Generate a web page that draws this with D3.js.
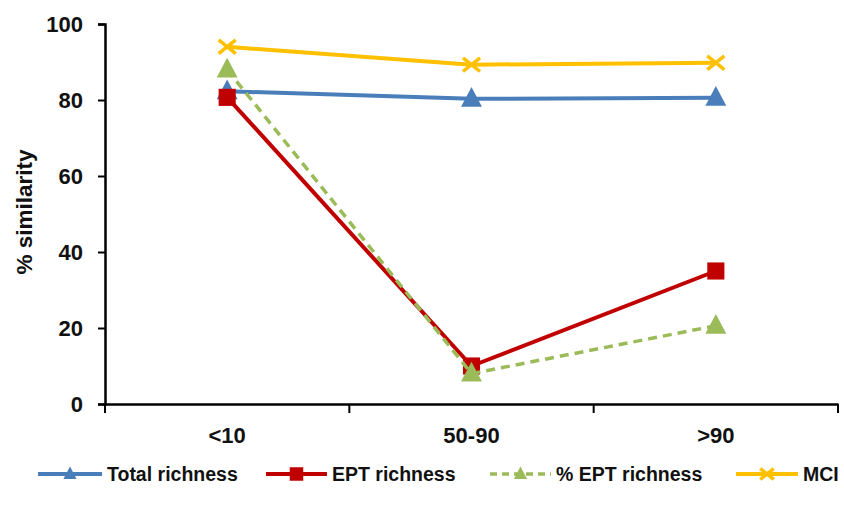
<!DOCTYPE html>
<html>
<head>
<meta charset="utf-8">
<script src="https://cdn.jsdelivr.net/npm/d3@7"></script>
<style>
  html, body { margin: 0; padding: 0; background: #fff; }
  svg text { font-family: "Liberation Sans", Arial, sans-serif; font-weight: bold; fill: #111; }
</style>
</head>
<body>
<svg id="chart" width="844" height="511"></svg>
<script>
// Categories along the x axis
const categories = ["<10", "50-90", ">90"];

// Series values (% similarity)
const totalRichness = [82.3, 80.3, 80.6];
const eptRichness = [80.7, 10, 35];
const pctEptRichness = [88, 8, 20.6];
const mci = [94, 89.3, 89.8];

const yTicks = [0, 20, 40, 60, 80, 100];

const series = [
  { name: "Total richness", values: totalRichness, color: "#4A7EBB", marker: "triangle", dashed: false },
  { name: "EPT richness", values: eptRichness, color: "#C00000", marker: "square", dashed: false },
  { name: "% EPT richness", values: pctEptRichness, color: "#9BBB59", marker: "triangle", dashed: true },
  { name: "MCI", values: mci, color: "#FFC000", marker: "cross", dashed: false }
];

const svg = d3.select("#chart");
const margin = { left: 105, right: 6, top: 24, bottom: 107 };
const W = 844, H = 511;

const x = d3.scaleBand().domain(categories).range([margin.left, W - margin.right]);
const y = d3.scaleLinear().domain([0, 100]).range([H - margin.bottom, margin.top]);

// Y axis
const yAxis = svg.append("g")
  .attr("transform", `translate(${margin.left},0)`)
  .call(d3.axisLeft(y).tickValues(yTicks).tickSize(7).tickPadding(15));
yAxis.select(".domain").attr("stroke", "#000").attr("stroke-width", 2.5);
yAxis.selectAll(".tick line").attr("stroke", "#000").attr("stroke-width", 2);
yAxis.selectAll("text").attr("font-size", 22).attr("dy", "0.36em")
  .style("font-family", '"Liberation Sans", Arial, sans-serif').style("font-weight", "bold").attr("fill", "#111");

// X axis with ticks at band boundaries
const xAxis = svg.append("g")
  .attr("transform", `translate(0,${y(0)})`)
  .call(d3.axisBottom(x).tickSize(0).tickPadding(23));
xAxis.select(".domain").attr("stroke", "#000").attr("stroke-width", 2.5);
xAxis.selectAll("text").attr("font-size", 22)
  .style("font-family", '"Liberation Sans", Arial, sans-serif').style("font-weight", "bold").attr("fill", "#111");
const boundaries = categories.map(c => x(c)).concat([x(categories[categories.length - 1]) + x.bandwidth()]);
xAxis.selectAll(".bound").data(boundaries).enter().append("line")
  .attr("x1", d => d).attr("x2", d => d).attr("y1", 0).attr("y2", 9)
  .attr("stroke", "#000").attr("stroke-width", 2);

// Y axis title
svg.append("text")
  .attr("transform", `translate(32,${(margin.top + y(0)) / 2 - 2}) rotate(-90)`)
  .attr("text-anchor", "middle")
  .attr("font-size", 22.5)
  .text("% similarity");

function drawMarker(g, type, cx, cy, color, size) {
  if (type === "triangle") {
    const s = size;
    g.append("path")
      .attr("d", `M${cx},${cy - s * 0.62} L${cx + s * 0.55},${cy + s * 0.42} L${cx - s * 0.55},${cy + s * 0.42} Z`)
      .attr("fill", color);
  } else if (type === "square") {
    const s = size * 0.9;
    g.append("rect").attr("x", cx - s / 2).attr("y", cy - s / 2).attr("width", s).attr("height", s).attr("fill", color);
  } else if (type === "cross") {
    const s = size * 0.45;
    g.append("path")
      .attr("d", `M${cx - s},${cy - s * 0.8} L${cx + s},${cy + s * 0.8} M${cx - s},${cy + s * 0.8} L${cx + s},${cy - s * 0.8}`)
      .attr("stroke", color).attr("stroke-width", 3.5).attr("fill", "none");
  }
}

const line = d3.line()
  .x((d, i) => x(categories[i]) + x.bandwidth() / 2)
  .y(d => y(d));

series.forEach(s => {
  const g = svg.append("g");
  g.append("path")
    .datum(s.values)
    .attr("d", line)
    .attr("fill", "none")
    .attr("stroke", s.color)
    .attr("stroke-width", s.dashed ? 3.5 : 4)
    .attr("stroke-dasharray", s.dashed ? "9,6" : null);
  s.values.forEach((v, i) => {
    drawMarker(g, s.marker, x(categories[i]) + x.bandwidth() / 2, y(v), s.color, 19);
  });
});

// Legend
const legendItems = [
  { x0: 38, x1: 102, tx: 107 },
  { x0: 266, x1: 327, tx: 332 },
  { x0: 490, x1: 551, tx: 556 },
  { x0: 736, x1: 798, tx: 803 }
];
const ly = 474;
series.forEach((s, i) => {
  const L = legendItems[i];
  const g = svg.append("g");
  g.append("line")
    .attr("x1", L.x0).attr("x2", L.x1).attr("y1", ly).attr("y2", ly)
    .attr("stroke", s.color).attr("stroke-width", s.dashed ? 3.5 : 4)
    .attr("stroke-dasharray", s.dashed ? "7,5" : null);
  drawMarker(g, s.marker, (L.x0 + L.x1) / 2, ly, s.color, s.marker === "triangle" ? 12 : 15);
  g.append("text")
    .attr("x", L.tx).attr("y", ly).attr("dy", "0.36em")
    .attr("font-size", 19.5)
    .text(s.name);
});
</script>
</body>
</html>
